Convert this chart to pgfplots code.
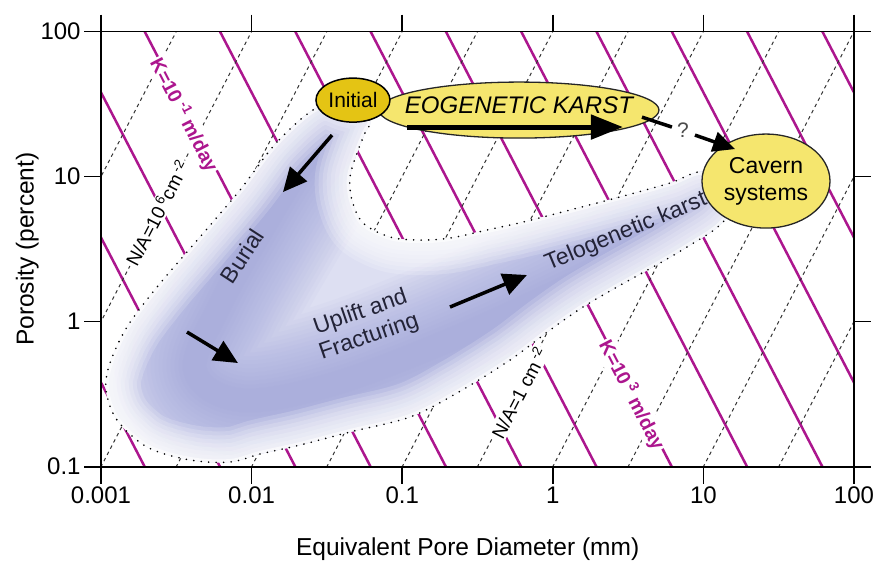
\documentclass[border=0pt]{standalone}
\usepackage{fontspec}
\setmainfont{Liberation Sans}
\usepackage{pgfplots}
\pgfplotsset{compat=1.18}
\usetikzlibrary{arrows.meta,shapes.geometric}
\definecolor{kmag}{RGB}{172,22,142}
\definecolor{lav}{RGB}{150,156,216}
\definecolor{gold}{RGB}{228,196,20}
\definecolor{lyel}{RGB}{245,230,110}
\definecolor{txt}{RGB}{35,35,55}
\newcommand\blob{plot[smooth cycle, tension=0.55] coordinates {
(axis cs:0.0276,30.1) (axis cs:0.01476,17.3) (axis cs:0.00837,8.07) (axis cs:0.00454,3.83)
(axis cs:0.002355,1.732) (axis cs:0.001488,0.918) (axis cs:0.001148,0.519) (axis cs:0.00108,0.338)
(axis cs:0.001277,0.210) (axis cs:0.00202,0.1367) (axis cs:0.0039,0.1112) (axis cs:0.00719,0.1077)
(axis cs:0.01137,0.1223) (axis cs:0.021,0.1411) (axis cs:0.045,0.1734) (axis cs:0.1127,0.2201)
(axis cs:0.2312,0.322) (axis cs:0.52,0.5437) (axis cs:0.958,0.875) (axis cs:1.587,1.261)
(axis cs:2.669,1.732) (axis cs:5.15,2.534) (axis cs:7.78,3.268) (axis cs:12.88,4.63)
(axis cs:16.21,6.89) (axis cs:10.25,10.74) (axis cs:6.0,9.02) (axis cs:3.11,7.46)
(axis cs:1.301,5.88) (axis cs:0.634,4.86) (axis cs:0.3656,4.28) (axis cs:0.2077,3.77)
(axis cs:0.1313,3.65) (axis cs:0.083,3.83) (axis cs:0.055,4.78) (axis cs:0.04642,6.89)
(axis cs:0.045,9.92) (axis cs:0.0501,14.52) (axis cs:0.0566,19.95) (axis cs:0.0611,24.5)
(axis cs:0.0417,27.8)}}
\newcommand\spine{plot[smooth, tension=0.6] coordinates {
(axis cs:0.03579,23.75) (axis cs:0.02094,11.44) (axis cs:0.01172,4.28) (axis cs:0.00617,1.301)
(axis cs:0.00421,0.4639) (axis cs:0.00837,0.2883) (axis cs:0.03317,0.3656) (axis cs:0.2077,0.7466)
(axis cs:1.116,1.651) (axis cs:4.42,3.373) (axis cs:12.88,6.36)}}
\begin{document}
\begin{tikzpicture}
\useasboundingbox (0,0) rectangle (875pt,560pt);
\begin{loglogaxis}[
  at={(101pt,93.3pt)}, anchor=south west,
  scale only axis, width=753pt, height=435.2pt,
  xmin=0.001, xmax=100, ymin=0.1, ymax=100,
  xtick={0.001,0.01,0.1,1,10,100},
  xticklabels={0.001,0.01,0.1,1,10,100},
  ytick={0.1,1,10,100},
  yticklabels={0.1,1,10,100},
  tick align=outside, major tick length=17pt,
  minor tick style={draw=none},
  axis line style={line width=1.6pt},
  major tick style={line width=1.6pt, black},
  ticklabel style={font=\fontsize{24}{27}\selectfont},
  label style={font=\fontsize{24.5}{27}\selectfont},
  xlabel={Equivalent Pore Diameter (mm)},
  ylabel={Porosity (percent)},
  xlabel style={at={(axis description cs:0.487,-0.19)}, anchor=center},
  ylabel style={at={(axis description cs:-0.098,0.5)}, anchor=center},
  axis on top,
]
% hydraulic conductivity lines (slope -2)
\pgfplotsset{kstyle/.style={kmag, line width=2.5pt}}
\addplot[kstyle] coordinates {(1.950e-5,1000) (6.166e-3,0.01)};
\addplot[kstyle] coordinates {(6.166e-5,1000) (1.950e-2,0.01)};
\addplot[kstyle] coordinates {(1.950e-4,1000) (6.166e-2,0.01)};
\addplot[kstyle] coordinates {(6.166e-4,1000) (0.1950,0.01)};
\addplot[kstyle] coordinates {(1.950e-3,1000) (0.6166,0.01)};
\addplot[kstyle] coordinates {(6.166e-3,1000) (1.950,0.01)};
\addplot[kstyle] coordinates {(1.950e-2,1000) (6.166,0.01)};
\addplot[kstyle] coordinates {(6.166e-2,1000) (19.50,0.01)};
\addplot[kstyle] coordinates {(0.1950,1000) (61.66,0.01)};
\addplot[kstyle] coordinates {(0.6166,1000) (195.0,0.01)};
\addplot[kstyle] coordinates {(1.950,1000) (616.6,0.01)};
\addplot[kstyle] coordinates {(6.166,1000) (1950,0.01)};
\addplot[kstyle] coordinates {(19.50,1000) (6166,0.01)};
% N/A lines (slope +2)
\pgfplotsset{nastyle/.style={black!80, line width=1pt, dash pattern=on 3.5pt off 3.5pt}}
\addplot[nastyle] coordinates {(0.01,1000) (3.162e-5,0.01)};
\addplot[nastyle] coordinates {(3.162e-2,1000) (1e-4,0.01)};
\addplot[nastyle] coordinates {(0.1,1000) (3.162e-4,0.01)};
\addplot[nastyle] coordinates {(0.3162,1000) (1e-3,0.01)};
\addplot[nastyle] coordinates {(1,1000) (3.162e-3,0.01)};
\addplot[nastyle] coordinates {(3.162,1000) (0.01,0.01)};
\addplot[nastyle] coordinates {(10,1000) (3.162e-2,0.01)};
\addplot[nastyle] coordinates {(31.62,1000) (0.1,0.01)};
\addplot[nastyle] coordinates {(100,1000) (0.3162,0.01)};
\addplot[nastyle] coordinates {(316.2,1000) (1,0.01)};
\addplot[nastyle] coordinates {(1000,1000) (3.162,0.01)};
\addplot[nastyle] coordinates {(3162,1000) (10,0.01)};
% line labels
\node[text=kmag, font=\bfseries\fontsize{19.5}{21}\selectfont, fill=white, inner sep=1.5pt, rotate=-62.6]
  at (axis cs:0.00356,26.5) {K=10\,\textsuperscript{-1} m/day};
\node[text=kmag, font=\bfseries\fontsize{19.5}{21}\selectfont, fill=white, inner sep=1.5pt, rotate=-62.6]
  at (axis cs:3.356,0.312) {K=10\,\textsuperscript{3} m/day};
\node[text=black, font=\fontsize{19}{21}\selectfont, fill=white, inner sep=1.5pt, rotate=62.6]
  at (axis cs:0.002355,5.605) {N/A=10\,\textsuperscript{6}cm\,\textsuperscript{-2}};
\node[text=black, font=\fontsize{19}{21}\selectfont, fill=white, inner sep=1.5pt, rotate=62.6]
  at (axis cs:0.5963,0.322) {N/A=1 cm\,\textsuperscript{-2}};
% shaded diagenetic field
\begin{scope}
\clip \blob;
\fill[white] \blob;
\fill[lav, opacity=0.32] \blob;
\pgfplotsinvokeforeach{160,152,144,136,128,120,112,104,96,88,80,72,64,56,48,40,32,24}{
  \draw[lav, opacity=0.05, line width=#1pt, line cap=round, line join=round] \spine;}
\pgfplotsinvokeforeach{70,62,54,46,38,30,22,14}{
  \draw[white, opacity=0.16, line width=#1pt] \blob;}
\draw[white, opacity=0.6, line width=6pt] \blob;
\end{scope}
\draw[black, line width=1.8pt, line cap=round, dash pattern=on 0pt off 7.5pt] \blob;
% ellipses
\node[ellipse, draw=black!85, fill=lyel, line width=1.3pt, minimum width=280pt, minimum height=56pt, inner sep=0pt]
  at (axis cs:0.5963,28.73) {};
\node[font=\itshape\fontsize{24}{28}\selectfont] at (axis cs:0.5963,31.1) {EOGENETIC KARST};
\node[ellipse, draw=black, fill=gold, line width=1.5pt, minimum width=74pt, minimum height=44pt, inner sep=0pt,
  font=\fontsize{21}{24}\selectfont] at (axis cs:0.0471,33.65) {Initial};
\node[ellipse, draw=black!85, fill=lyel, line width=1.3pt, minimum width=128pt, minimum height=94pt, inner sep=0pt,
  align=center, font=\fontsize{23}{27}\selectfont] at (axis cs:26.04,9.31) {Cavern\\systems};
% arrows
\draw[line width=5pt, -{Triangle[length=32pt,width=24pt]}] (axis cs:0.1076,21.94) -- (axis cs:2.924,21.94);
\draw[line width=3.5pt, -{Triangle[length=24pt,width=22pt]}] (axis cs:0.03419,19.32) -- (axis cs:0.01616,7.82);
\draw[line width=3.5pt, -{Triangle[length=24pt,width=22pt]}] (axis cs:0.003724,0.848) -- (axis cs:0.00812,0.5184);
\draw[line width=3.5pt, -{Triangle[length=24pt,width=22pt]}] (axis cs:0.2077,1.261) -- (axis cs:0.674,2.096);
\draw[line width=3.5pt] (axis cs:3.91,25.7) -- (axis cs:6.18,21.94);
\draw[line width=3.5pt, -{Triangle[length=22pt,width=20pt]}] (axis cs:8.79,19.32) -- (axis cs:16.21,15.47);
\node[text=black!70, font=\fontsize{21}{24}\selectfont] at (axis cs:7.32,20.92) {?};
% field texts
\node[text=txt, font=\fontsize{23}{26}\selectfont, rotate=57] at (axis cs:0.00863,2.83) {Burial};
\node[text=txt, font=\fontsize{23}{26}\selectfont, rotate=19, align=center] at (axis cs:0.0566,0.9476) {Uplift and\\Fracturing};
\node[text=txt, font=\fontsize{23}{26}\selectfont, rotate=22.6] at (axis cs:3.062,4.145) {Telogenetic karst};
\end{loglogaxis}
\end{tikzpicture}
\end{document}
